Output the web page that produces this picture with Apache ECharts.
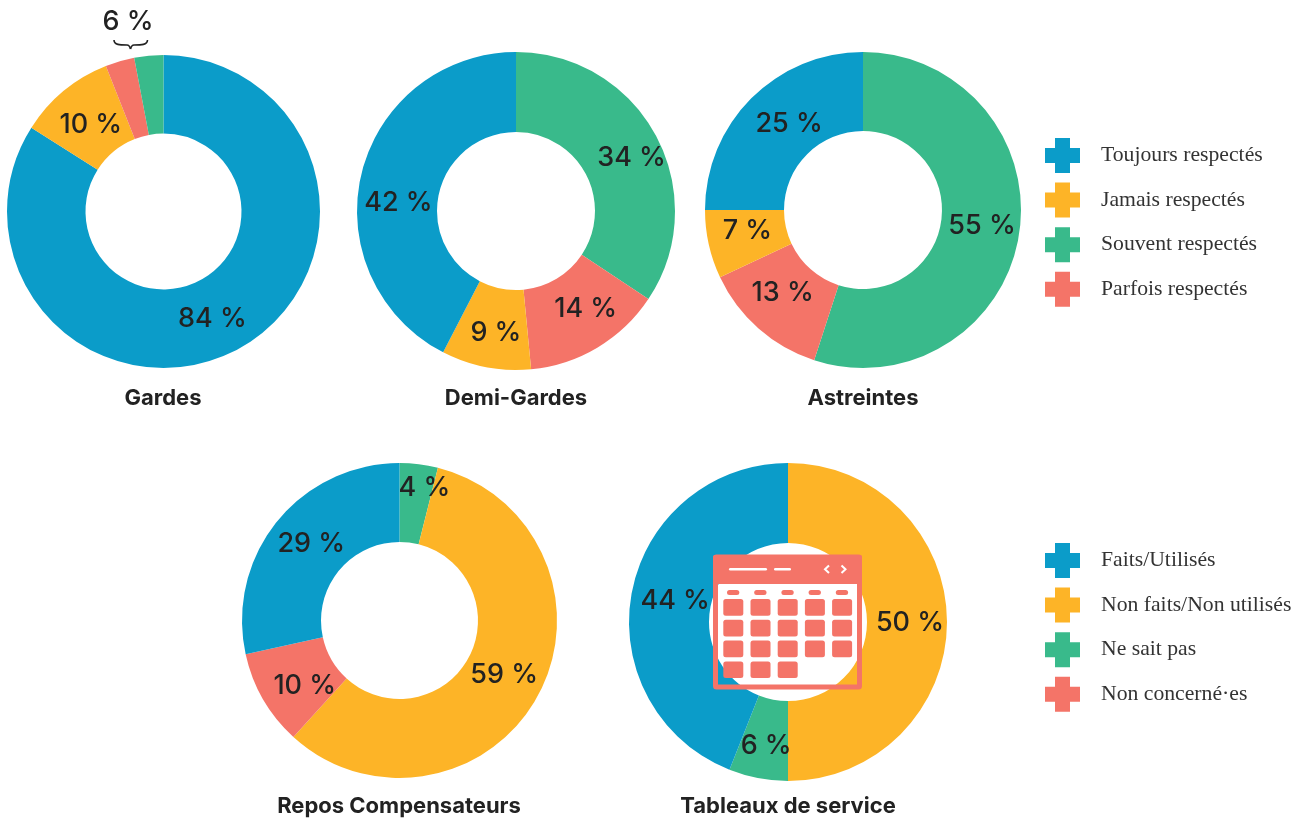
<!DOCTYPE html>
<html><head><meta charset="utf-8">
<style>html,body{margin:0;padding:0;background:#fff}#c{width:1302px;height:818px}</style>
<script src="https://cdn.jsdelivr.net/npm/echarts@6/dist/echarts.min.js"></script>
</head><body><div id="c"></div>
<script>
const legendTop = ['Toujours respectés','Jamais respectés','Souvent respectés','Parfois respectés'];
const legendBottom = ['Faits/Utilisés','Non faits/Non utilisés','Ne sait pas','Non concerné·es'];
const gardesNames = ['Toujours respectés','Jamais respectés','Parfois respectés','Souvent respectés'];
const gardesValues = [84,10,3,3];
const demiNames = ['Souvent respectés','Parfois respectés','Jamais respectés','Toujours respectés'];
const demiValues = [34,14,9,42];
const astreintesNames = ['Souvent respectés','Parfois respectés','Jamais respectés','Toujours respectés'];
const astreintesValues = [55,13,7,25];
const reposNames = ['Ne sait pas','Non faits/Non utilisés','Non concerné·es','Faits/Utilisés'];
const reposValues = [4,59,10,29];
const tableauxNames = ['Non faits/Non utilisés','Ne sait pas','Faits/Utilisés'];
const tableauxValues = [50,6,44];
const titles = ['Gardes','Demi-Gardes','Astreintes','Repos Compensateurs','Tableaux de service'];
const groupedLabel = '6 %';

const BLUE='#0B9CC9',YEL='#FDB427',GRN='#39BA8B',RED='#F47468',INK='#222222';
const colorOf = {};
[legendTop,legendBottom].forEach(l=>l.forEach((n,i)=>colorOf[n]=[BLUE,YEL,GRN,RED][i]));

const LABEL_FONT='Inter', LEGEND_FONT='"Liberation Serif"';
function pie(names,values,cx,cy,r,ri,hideBelow,nudge){
  return {type:'pie',center:[cx,cy],radius:[ri,r],startAngle:90,clockwise:true,silent:true,animation:false,
    avoidLabelOverlap:false,labelLine:{show:false},emphasis:{disabled:true},
    label:{show:true,position:'inside',formatter:'{c} %',color:INK,fontFamily:LABEL_FONT,fontSize:27,fontWeight:500},
    labelLayout:p=>({dx:nudge[p.dataIndex][0],dy:nudge[p.dataIndex][1]}),
    data:names.map((n,i)=>({name:n,value:values[i],itemStyle:{color:colorOf[n]},
      label:{show:values[i]>=hideBelow}}))};
}
function legend(data,top){
  return {orient:'vertical',left:1045,top:top,padding:0,data:data,itemWidth:35,itemHeight:35,itemGap:9.6,
    selectedMode:false,icon:'path://M10 0H25V10H35V25H25V35H10V25H0V10H10Z',
    textStyle:{fontFamily:LEGEND_FONT,fontSize:21.7,color:'#333',padding:[0,0,0,16]}};
}
function title(text,x,top){
  return {text:text,left:x,top:top,textAlign:'center',padding:0,
    textStyle:{fontFamily:LABEL_FONT,fontSize:22,fontWeight:700,color:INK}};
}
const gfx=[];
// "6 %" grouped annotation and its brace
gfx.push({type:'text',z:20,style:{x:128,y:22,text:groupedLabel,align:'center',verticalAlign:'middle',fill:INK,font:'500 27px Inter'}});
const braceStyle={fill:null,stroke:INK,lineWidth:1.6};
[[114,40,127,45,114,45,120,45],[147.5,40,134,45,147.5,45,141,45],[127,45,130.5,49,129.5,45,130,47],[134,45,130.5,49,132,45,131,47]].forEach(b=>
  gfx.push({type:'bezierCurve',z:20,shape:{x1:b[0],y1:b[1],x2:b[2],y2:b[3],cpx1:b[4],cpy1:b[5],cpx2:b[6],cpy2:b[7]},style:braceStyle}));
// calendar pictogram
const Z=30;
gfx.push({type:'rect',z:Z,shape:{x:713,y:555,width:149,height:29,r:[2,2,0,0]},style:{fill:RED}});
gfx.push({type:'rect',z:Z,shape:{x:715.5,y:557,width:144,height:130,r:1},style:{fill:null,stroke:RED,lineWidth:5}});
[[729,38],[774,17]].forEach(a=>gfx.push({type:'rect',z:Z+1,shape:{x:a[0],y:568,width:a[1],height:2.6,r:1.3},style:{fill:'#fff'}}));
[[[829,565.5],[825,569.3],[829,573]],[[841.5,565.5],[845.5,569.3],[841.5,573]]].forEach(p=>
  gfx.push({type:'polyline',z:Z+1,shape:{points:p},style:{fill:null,stroke:'#fff',lineWidth:2}}));
const rowCounts=[5,5,5,3];
for(let c=0;c<5;c++){
  gfx.push({type:'rect',z:Z,shape:{x:727+c*27.2,y:590,width:12.3,height:5,r:2.5},style:{fill:RED}});
  rowCounts.forEach((n,row)=>{ if(c<n) gfx.push({type:'rect',z:Z,shape:{x:723.3+c*27.2,y:599+row*20.8,width:20,height:16.7,r:2.5},style:{fill:RED}}); });
}
const chart=echarts.init(document.getElementById('c'),null,{renderer:'canvas'});
chart.setOption({
  animation:false,
  backgroundColor:'#fff',
  legend:[legend(legendTop,138),legend(legendBottom,543)],
  title:[title(titles[0],163,387),title(titles[1],516,387),title(titles[2],863,387),title(titles[3],399,795),title(titles[4],788,795)],
  series:[
    pie(gardesNames,gardesValues,163.5,211.5,156.5,78,5,[[-9,2],[4,6],[0,0],[0,0]]),
    pie(demiNames,demiValues,516,211,159,79,0,[[8,4],[7,-7],[3,2],[1,21]]),
    pie(astreintesNames,astreintesValues,863,210,158,79,0,[[-1,-3],[0,-8],[3,-6],[12,0]]),
    pie(reposNames,reposValues,399.5,620.5,157.5,78.5,0,[[10,-13],[-2,-3],[10,5],[6,-1]]),
    pie(tableauxNames,tableauxValues,788,622,159,79,0,[[0,1],[1,4],[7,2]])
  ],
  graphic:gfx
});
</script></body></html>
